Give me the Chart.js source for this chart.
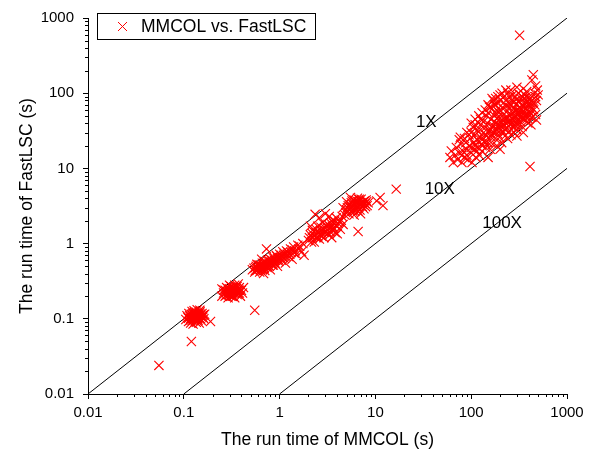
<!DOCTYPE html>
<html>
<head>
<meta charset="utf-8">
<script src="https://cdn.jsdelivr.net/npm/chart.js@4.4.0/dist/chart.umd.min.js"></script>
<style>body{margin:0;background:#fff}</style>
</head>
<body>
<canvas id="RunTimeChart" width="593" height="459"></canvas>
<script>
// [MMCOL run time, FastLSC run time] in seconds
var runTimePairs = [
  // stray small ones
  [0.055,0.024],[0.12,0.05],[0.19,0.092],[0.55,0.13],
  // ~0.1 s group
  [0.105,0.098],[0.11,0.105],[0.112,0.092],[0.115,0.11],[0.118,0.1],[0.12,0.115],[0.122,0.095],[0.125,0.105],
  [0.127,0.118],[0.13,0.1],[0.132,0.11],[0.135,0.122],[0.138,0.098],[0.14,0.108],[0.142,0.115],[0.145,0.102],
  [0.148,0.125],[0.15,0.11],[0.152,0.095],[0.155,0.118],[0.158,0.105],[0.16,0.112],[0.118,0.088],[0.125,0.085],
  [0.135,0.09],[0.145,0.088],[0.128,0.128],[0.138,0.132],[0.113,0.118],[0.108,0.11],[0.14,0.1],[0.132,0.093],
  [0.15,0.1],[0.162,0.1],[0.165,0.115],[0.122,0.125],[0.147,0.13],
  [0.117,0.107],[0.123,0.112],[0.128,0.096],[0.133,0.115],[0.137,0.104],[0.143,0.112],[0.126,0.1],[0.131,0.106],
  [0.141,0.095],[0.146,0.12],[0.153,0.106],[0.12,0.102],[0.116,0.095],[0.136,0.112],[0.129,0.122],[0.149,0.115],
  [0.156,0.11],[0.112,0.102],[0.124,0.118],[0.139,0.118],
  // ~0.3 s group
  [0.25,0.2],[0.26,0.22],[0.27,0.24],[0.28,0.21],[0.28,0.26],[0.29,0.19],[0.29,0.23],[0.3,0.25],[0.3,0.21],
  [0.31,0.27],[0.31,0.22],[0.32,0.2],[0.32,0.24],[0.33,0.26],[0.33,0.22],[0.34,0.28],[0.34,0.19],[0.35,0.23],
  [0.35,0.25],[0.36,0.21],[0.36,0.27],[0.37,0.24],[0.38,0.22],[0.38,0.26],[0.39,0.2],[0.4,0.24],[0.41,0.22],
  [0.27,0.2],[0.3,0.28],[0.33,0.24],[0.25,0.25],[0.37,0.29],[0.42,0.26],
  [0.28,0.23],[0.29,0.25],[0.3,0.23],[0.31,0.24],[0.32,0.22],[0.32,0.26],[0.33,0.2],[0.34,0.24],[0.34,0.22],
  [0.35,0.27],[0.36,0.24],[0.37,0.22],[0.31,0.2],[0.29,0.21],[0.38,0.24],[0.26,0.24],
  // 0.5 - 2 s group
  [0.52,0.45],[0.55,0.42],[0.56,0.48],[0.58,0.44],[0.6,0.5],[0.6,0.46],[0.62,0.42],[0.63,0.52],[0.65,0.47],
  [0.66,0.55],[0.68,0.5],[0.7,0.44],[0.7,0.58],[0.72,0.52],[0.74,0.48],[0.75,0.6],[0.77,0.55],[0.78,0.5],
  [0.8,0.62],[0.82,0.57],[0.84,0.52],[0.85,0.66],[0.88,0.6],[0.9,0.55],[0.92,0.7],[0.95,0.63],[0.98,0.58],
  [1.0,0.72],[1.02,0.66],[1.05,0.6],[1.08,0.78],[1.1,0.7],[1.12,0.64],[1.18,0.8],[1.2,0.72],[1.25,0.67],
  [1.3,0.85],[1.32,0.76],[1.4,0.9],[1.45,0.8],[1.5,0.72],[1.55,0.95],[1.6,0.85],[1.7,0.78],[1.75,1.0],
  [0.73,0.85],[0.65,0.62],[0.58,0.53],[0.68,0.4],[0.8,0.45],[0.95,0.5],[1.15,0.55],[1.35,0.62],[1.8,0.7],
  [0.54,0.47],[0.57,0.5],[0.59,0.47],[0.61,0.52],[0.62,0.48],[0.64,0.5],[0.66,0.45],[0.67,0.52],[0.69,0.55],
  [0.71,0.5],[0.73,0.55],[0.76,0.52],[0.79,0.58],[0.81,0.54],[0.83,0.6],[0.86,0.56],[0.89,0.64],[0.91,0.6],
  [0.94,0.67],[0.97,0.62],[1.0,0.65],[1.04,0.7],[1.07,0.66],[1.12,0.74],[1.16,0.68],[1.22,0.77],[1.28,0.72],
  [1.36,0.82],[1.42,0.75],[1.62,0.92],[0.56,0.44],[0.63,0.45],[0.69,0.47],[0.75,0.5],[0.86,0.52],
  // 2 - 5 s group
  [2.0,1.1],[2.1,1.3],[2.2,1.2],[2.2,1.5],[2.3,1.05],[2.4,1.4],[2.5,1.25],[2.5,1.7],[2.6,1.15],[2.7,1.5],
  [2.8,1.35],[2.8,1.9],[2.9,1.2],[3.0,1.6],[3.1,1.45],[3.2,1.8],[3.3,1.3],[3.4,1.65],[3.5,2.0],[3.6,1.5],
  [3.7,1.85],[3.8,1.4],[3.9,2.2],[4.0,1.7],[4.2,1.95],[4.3,1.55],[4.5,2.3],[4.6,1.8],[2.35,2.45],[2.6,2.2],
  [3.0,2.5],[3.3,2.3],[2.1,1.7],[3.5,1.2],[4.0,1.35],
  [2.2,1.35],[2.3,1.25],[2.4,1.55],[2.45,1.2],[2.55,1.4],[2.65,1.3],[2.7,1.65],[2.75,1.25],[2.85,1.55],
  [2.95,1.4],[3.05,1.75],[3.15,1.35],[3.25,1.6],[3.35,1.45],[3.45,1.85],[3.55,1.7],[3.65,1.6],[3.75,2.0],
  [3.85,1.75],[4.1,1.85],[4.4,2.05],[2.05,1.2],[2.15,1.05],
  // 5 - 12 s group
  [4.8,2.4],[5.0,2.8],[5.2,3.2],[5.3,2.5],[5.5,3.0],[5.6,3.5],[5.8,2.7],[5.9,3.2],[6.0,3.8],[6.2,2.9],
  [6.3,3.4],[6.5,3.0],[6.5,4.0],[6.7,3.6],[6.9,2.8],[7.0,3.3],[7.1,3.9],[7.3,3.1],[7.5,3.6],[7.6,2.9],
  [7.8,3.4],[8.0,3.8],[8.2,3.2],[4.6,3.0],[5.0,3.6],[5.5,4.1],[6.0,2.4],[7.0,2.5],[8.4,3.5],[6.6,1.45],
  [10.3,3.7],[12,3.2],[16.5,5.3],[11.2,4.1],
  [5.1,3.0],[5.4,2.8],[5.4,3.3],[5.7,3.1],[5.7,3.7],[6.0,3.3],[6.1,2.7],[6.4,3.2],[6.4,3.7],[6.6,2.7],
  [6.8,3.3],[6.8,3.9],[7.2,3.5],[7.4,3.3],[7.7,3.7],[7.9,3.1],[6.2,3.6],[5.9,2.9],[4.9,2.6],[8.1,3.6],
  // 60 - 500 s group
  [60,14],[62,17],[65,12],[68,15],[70,19],[72,13],[75,16],[78,21],[80,12],[82,17],[85,14],[88,22],[90,18],
  [92,13],[95,20],[98,25],[100,16],[102,12],[105,22],[108,18],[110,28],[112,14],[115,24],[118,19],[120,31],
  [122,15],[125,26],[128,21],[130,17],[135,30],[138,23],[140,35],[142,19],[145,27],[148,40],[150,22],[155,32],
  [158,18],[160,45],[162,26],[165,36],[168,21],[170,30],[175,42],[178,25],[180,55],[182,34],[185,20],[188,29],
  [190,48],[195,38],[198,26],[200,60],[205,33],[208,22],[210,44],[215,30],[218,52],[220,38],[225,27],[228,70],
  [230,46],[235,35],[238,58],[240,25],[245,42],[248,31],[250,65],[255,50],[258,38],[260,28],[265,80],[268,45],
  [270,55],[275,35],[278,62],[280,30],[285,48],[288,90],[290,40],[295,58],[298,33],[300,72],[305,45],[310,100],
  [312,38],[315,55],[320,65],[325,42],[330,85],[335,50],[340,36],[345,70],[350,58],[360,45],[365,95],[370,62],
  [380,50],[385,78],[390,40],[400,68],[410,55],[420,85],[430,48],[440,75],[450,60],[460,100],[470,52],
  [350,30],[300,27],[420,38],[200,18],[150,14],[480,44],[260,110],[300,120],[350,115],[380,105],
  [130,24],[140,28],[150,30],[160,33],[170,37],[180,40],[190,35],[200,42],[210,38],[220,45],[230,40],[240,48],
  [250,43],[260,52],[270,46],[280,56],[290,50],[300,60],[310,52],[320,58],[330,62],[340,55],[350,66],[360,72],
  [370,52],[380,60],[390,70],[400,58],[410,75],[420,66],
  [165,28],[185,32],[205,36],[225,33],[245,37],[265,40],[285,38],[305,42],[325,48],[345,46],[365,50],[385,46],
  [405,50],[175,50],[195,55],[215,62],[235,68],[255,72],[275,76],[295,82],[315,78],[335,92],[355,85],[375,90],
  [395,88],[440,62],[460,70],[480,80],[470,90],[110,20],[120,23],[100,19],[90,15],[80,15],[130,20],[140,22],
  [115,17],[490,110],[470,125],[500,95],
  [90,30],[100,40],[110,45],[120,50],[105,35],[95,28],[130,55],[140,60],[150,70],[125,38],[115,32],[85,25],
  [75,24],[160,65],[170,80],[190,90],[210,100],[230,110],[180,70],[200,80],[150,55],[155,65],[165,85],[145,50],
  [175,70],[135,42],[125,45],[180,85],[190,75],[200,95],[220,90],[240,100],[250,90],[185,60],[230,80],[270,95],
  [120,40],[110,38],[100,30],[77,26],
  [445,176],[430,150],[411,10.6],[320,590]
];
var speedupRatios = [1, 10, 100];
var speedupLabels = ['1X', '10X', '100X'];
var speedupLabelAt = [[34, 41], [47, 5.2], [210, 1.87]];
var axisTicks = [0.01, 0.1, 1, 10, 100, 1000];
var seriesName = 'MMCOL vs. FastLSC';

var fontFamily = '"Liberation Sans", Arial, sans-serif';

var lineSets = speedupRatios.map(function(r){
  return {
    type: 'line',
    data: [{x: 0.01 * r, y: 0.01}, {x: 1000, y: 1000 / r}],
    borderColor: '#000', borderWidth: 1, pointRadius: 0, fill: false
  };
});

var extras = {
  id: 'extras',
  afterDraw: function(chart){
    var c = chart.ctx, xs = chart.scales.x, ys = chart.scales.y, a = chart.chartArea;
    c.save();
    // minor ticks
    c.strokeStyle = '#000'; c.lineWidth = 1;
    c.beginPath();
    for (var e = -2; e < 3; e++) {
      for (var m = 2; m < 10; m++) {
        var v = m * Math.pow(10, e);
        var px = Math.round(xs.getPixelForValue(v)) + 0.5;
        c.moveTo(px, a.bottom); c.lineTo(px, a.bottom + 3);
        var py = Math.round(ys.getPixelForValue(v)) + 0.5;
        c.moveTo(a.left, py); c.lineTo(a.left - 3, py);
      }
    }
    c.stroke();
    // ratio labels
    c.fillStyle = '#000';
    c.font = '17px ' + fontFamily;
    c.textAlign = 'center'; c.textBaseline = 'middle';
    speedupLabels.forEach(function(t, i){
      c.fillText(t, xs.getPixelForValue(speedupLabelAt[i][0]), ys.getPixelForValue(speedupLabelAt[i][1]));
    });
    // legend box
    c.strokeRect(97.5, 13.5, 218, 26);
    c.strokeStyle = '#ff0000';
    c.beginPath();
    c.moveTo(118, 22); c.lineTo(127, 31);
    c.moveTo(127, 22); c.lineTo(118, 31);
    c.stroke();
    c.textAlign = 'left';
    c.font = '17.5px ' + fontFamily;
    c.fillText(seriesName, 141, 27);
    c.restore();
  }
};

var ctx = document.getElementById('RunTimeChart');
var myChart = new Chart(ctx, {
  type: 'scatter',
  data: {
    datasets: [{
      label: seriesName,
      data: runTimePairs.map(function(p){ return {x: p[0], y: p[1]}; }),
      pointStyle: 'crossRot', pointRadius: 6.5, borderColor: '#ff0000', backgroundColor: '#ff0000', borderWidth: 1.1
    }].concat(lineSets)
  },
  options: {
    responsive: false, animation: false,
    layout: {padding: {top: 10, right: 26, left: 0, bottom: 0}},
    plugins: {legend: {display: false}, tooltip: {enabled: false}},
    scales: {
      x: {
        type: 'logarithmic', min: 0.01, max: 1000,
        afterFit: function(s){ s.height = 65; },
        afterBuildTicks: function(s){ s.ticks = axisTicks.map(function(v){ return {value: v}; }); },
        grid: {display: true, drawOnChartArea: false, drawTicks: true, tickLength: 5, color: '#000'},
        border: {display: true, color: '#000', width: 1},
        ticks: {color: '#000', font: {family: fontFamily, size: 15}, padding: 5, maxRotation: 0,
                callback: function(v){ return String(v); }},
        title: {display: true, text: 'The run time of MMCOL (s)', color: '#000',
                font: {family: fontFamily, size: 17.5}, padding: {top: 0, bottom: 8}}
      },
      y: {
        type: 'logarithmic', min: 0.01, max: 1000,
        afterFit: function(s){ s.width = 88; },
        afterBuildTicks: function(s){ s.ticks = axisTicks.map(function(v){ return {value: v}; }); },
        grid: {display: true, drawOnChartArea: false, drawTicks: true, tickLength: 5, color: '#000'},
        border: {display: true, color: '#000', width: 1},
        ticks: {color: '#000', font: {family: fontFamily, size: 15}, padding: 9,
                callback: function(v){ return String(v); }},
        title: {display: true, text: 'The run time of FastLSC (s)', color: '#000',
                font: {family: fontFamily, size: 17.5}, padding: {top: 17, bottom: 0}}
      }
    }
  },
  plugins: [extras]
});
</script>
</body>
</html>
